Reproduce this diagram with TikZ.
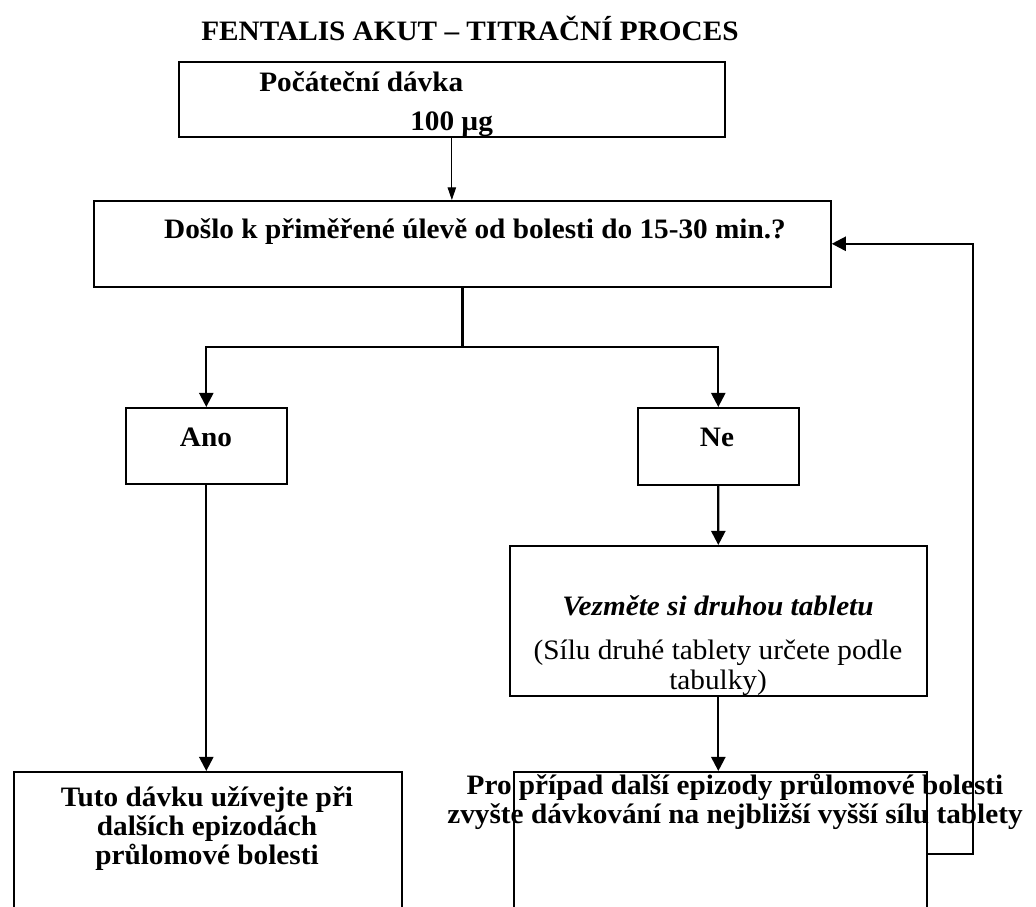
\documentclass[tikz,border=0pt]{standalone}
\usepackage{fontspec}
\setmainfont{Liberation Serif}[FakeStretch=1.04]
\usepackage{tikz}
\usetikzlibrary{arrows.meta, positioning, calc}

\begin{document}
\begin{tikzpicture}[x=0.025cm, y=-0.025cm,
    box/.style={draw, line width=1.1pt, inner sep=0pt, anchor=north west},
    txt/.style={inner sep=0pt, anchor=base, align=center,
      font=\fontsize{20pt}{20.3pt}\selectfont\bfseries},
    link/.style={line width=1.6pt},
    arrow/.style={link, -{Triangle[length=10pt, width=10pt]}},
    thinarrow/.style={line width=0.7pt, -{Triangle[length=9pt, width=6pt]}}]
  \useasboundingbox (0,0) rectangle (1036,906);
  \clip (0,0) rectangle (1036,906);

  % Boxes
  \node[box, minimum width=13.65cm, minimum height=1.875cm] (start) at (178,61) {};
  \node[box, minimum width=18.425cm, minimum height=2.15cm] (question) at (93,200) {};
  \node[box, minimum width=4.025cm, minimum height=1.9cm] (yes) at (125,407) {};
  \node[box, minimum width=4.025cm, minimum height=1.925cm] (no) at (637,407) {};
  \node[box, minimum width=10.425cm, minimum height=3.75cm] (second) at (509,545) {};
  \node[box, minimum width=9.7cm, minimum height=4.5cm] (keep) at (13,771) {};
  \node[box, minimum width=10.325cm, minimum height=4.5cm] (raise) at (513,771) {};

  % Texts (base of a multi-line text = its last line)
  \node[txt] (title) at (470,41) {FENTALIS AKUT – TITRAČNÍ PROCES};
  \node[txt, anchor=base west] (dose) at (259,92) {Počáteční dávka};
  \node[txt, anchor=base west] (amount) at (410,131) {100 µg};
  \node[txt] (qtext) at (475,238) {Došlo k přiměřené úlevě od bolesti do 15-30 min.?};
  \node[txt] (yestext) at (206,446) {Ano};
  \node[txt] (notext) at (717,446) {Ne};
  \node[txt, font=\fontsize{20pt}{20.3pt}\selectfont\bfseries\itshape] (secondhead) at (718,615) {Vezměte si druhou tabletu};
  \node[txt, font=\fontsize{20pt}{21.3pt}\selectfont] (secondnote) at (718,689) {(Sílu druhé tablety určete podle\\tabulky)};
  \node[txt] (keeptext) at (207,864) {Tuto dávku užívejte při\\dalších epizodách\\průlomové bolesti};
  \node[txt, font=\fontsize{20pt}{20pt}\selectfont\bfseries] (raisetext) at (735,823) {Pro případ další epizody průlomové bolesti\\zvyšte dávkování na nejbližší vyšší sílu tablety};

  % Connectors
  \coordinate (split) at (461.5,347);
  \coordinate (loop) at (973,854);
  \draw[thinarrow] (start.south) -- (start.south |- question.north);
  \draw[link] (question.south) -- (question.south |- split);
  \draw[arrow] (split) -| (yes.north);
  \draw[arrow] (split) -| (no.north);
  \draw[arrow] (yes.south) -- (yes.south |- keep.north);
  \draw[arrow] (no.south) -- (second.north);
  \draw[arrow] (second.south) -- (second.south |- raise.north);
  \draw[arrow] (raise.east |- loop) -- (loop) |- (question.east);
\end{tikzpicture}
\end{document}
